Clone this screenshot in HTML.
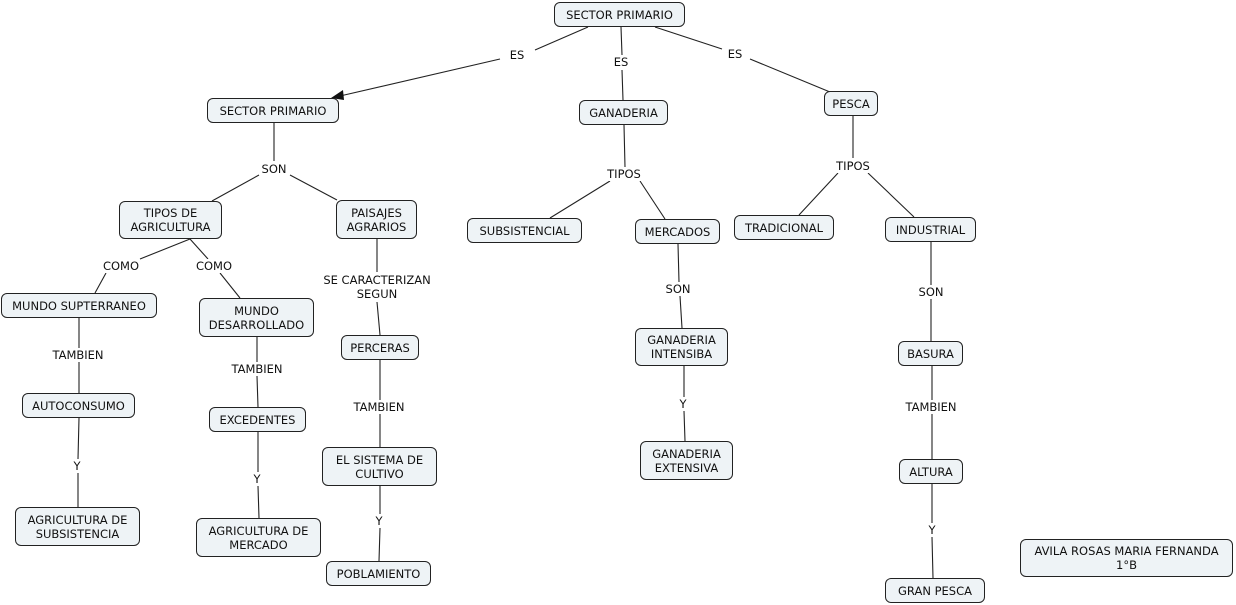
<!DOCTYPE html>
<html><head><meta charset="utf-8"><style>
body{margin:0;width:1236px;height:605px;background:#fff;position:relative;overflow:hidden;font-family:"DejaVu Sans","Liberation Sans",sans-serif;font-size:11.5px;color:#111}
.n{position:absolute;box-sizing:border-box;border:1px solid #222;border-radius:6px;background:#eef3f6;display:flex;align-items:center;justify-content:center;text-align:center;line-height:14px}
.l{position:absolute;transform:translate(-50%,-50%);background:#fff;padding:0 1px;line-height:14px;text-align:center;white-space:nowrap}
svg{position:absolute;left:0;top:0}
</style></head><body>
<svg width="1236" height="605" stroke="#222" stroke-width="1.1" fill="none">
<path d="M588 27L535 50M500 59L340 96"/>
<polygon points="331,98 343,90 344,100" fill="#111" stroke="none"/>
<path d="M621 27L622 55M622 70L623 100"/>
<path d="M655 27L722 49M750 59L830 92"/>
<path d="M274 123L274 161M259 175L212 201M290 175L337 200"/>
<path d="M624 125L625 167M610 181L550 218M640 181L665 219"/>
<path d="M853 116L853 158M838 173L799 215M868 173L914 217"/>
<path d="M190 239L140 259M106 273L95 293M190 239L208 259M220 273L240 298"/>
<path d="M377 239L377 272M377 302L380 335"/>
<path d="M678 244L679 282M680 296L682 328"/>
<path d="M931 242L931 285M931 299L931 341"/>
<path d="M79 318L79 348M79 362L79 393"/>
<path d="M257 337L257 362M257 376L258 407"/>
<path d="M380 360L380 400M380 414L380 447"/>
<path d="M932 366L932 400M932 414L932 459"/>
<path d="M79 418L78 459M78 473L78 507"/>
<path d="M258 432L258 472M258 486L259 518"/>
<path d="M380 486L380 514M380 528L379 561"/>
<path d="M684 366L684 397M684 411L685 441"/>
<path d="M932 484L932 523M932 537L933 578"/>
</svg>
<div class="n" style="left:554px;top:2px;width:131px;height:25px">SECTOR PRIMARIO</div>
<div class="n" style="left:207px;top:98px;width:132px;height:25px">SECTOR PRIMARIO</div>
<div class="n" style="left:579px;top:100px;width:89px;height:25px">GANADERIA</div>
<div class="n" style="left:824px;top:91px;width:54px;height:25px">PESCA</div>
<div class="n" style="left:119px;top:201px;width:103px;height:38px">TIPOS DE<br>AGRICULTURA</div>
<div class="n" style="left:336px;top:200px;width:81px;height:39px">PAISAJES<br>AGRARIOS</div>
<div class="n" style="left:467px;top:218px;width:115px;height:25px">SUBSISTENCIAL</div>
<div class="n" style="left:635px;top:219px;width:85px;height:25px">MERCADOS</div>
<div class="n" style="left:734px;top:215px;width:100px;height:25px">TRADICIONAL</div>
<div class="n" style="left:885px;top:217px;width:91px;height:25px">INDUSTRIAL</div>
<div class="n" style="left:1px;top:293px;width:156px;height:25px">MUNDO SUPTERRANEO</div>
<div class="n" style="left:199px;top:298px;width:115px;height:39px">MUNDO<br>DESARROLLADO</div>
<div class="n" style="left:341px;top:335px;width:78px;height:25px">PERCERAS</div>
<div class="n" style="left:635px;top:328px;width:93px;height:38px">GANADERIA<br>INTENSIBA</div>
<div class="n" style="left:898px;top:341px;width:65px;height:25px">BASURA</div>
<div class="n" style="left:22px;top:393px;width:113px;height:25px">AUTOCONSUMO</div>
<div class="n" style="left:209px;top:407px;width:97px;height:25px">EXCEDENTES</div>
<div class="n" style="left:322px;top:447px;width:115px;height:39px">EL SISTEMA DE<br>CULTIVO</div>
<div class="n" style="left:640px;top:441px;width:93px;height:39px">GANADERIA<br>EXTENSIVA</div>
<div class="n" style="left:899px;top:459px;width:64px;height:25px">ALTURA</div>
<div class="n" style="left:15px;top:507px;width:125px;height:39px">AGRICULTURA DE<br>SUBSISTENCIA</div>
<div class="n" style="left:196px;top:518px;width:125px;height:39px">AGRICULTURA DE<br>MERCADO</div>
<div class="n" style="left:326px;top:561px;width:105px;height:25px">POBLAMIENTO</div>
<div class="n" style="left:885px;top:578px;width:100px;height:25px">GRAN PESCA</div>
<div class="n" style="left:1020px;top:539px;width:213px;height:38px">AVILA ROSAS MARIA FERNANDA<br>1°B</div>
<div class="l" style="left:517px;top:55px">ES</div>
<div class="l" style="left:621px;top:62px">ES</div>
<div class="l" style="left:735px;top:54px">ES</div>
<div class="l" style="left:274px;top:169px">SON</div>
<div class="l" style="left:624px;top:174px">TIPOS</div>
<div class="l" style="left:853px;top:166px">TIPOS</div>
<div class="l" style="left:121px;top:266px">COMO</div>
<div class="l" style="left:214px;top:266px">COMO</div>
<div class="l" style="left:377px;top:287px">SE CARACTERIZAN<br>SEGUN</div>
<div class="l" style="left:678px;top:289px">SON</div>
<div class="l" style="left:931px;top:292px">SON</div>
<div class="l" style="left:78px;top:355px">TAMBIEN</div>
<div class="l" style="left:257px;top:369px">TAMBIEN</div>
<div class="l" style="left:379px;top:407px">TAMBIEN</div>
<div class="l" style="left:931px;top:407px">TAMBIEN</div>
<div class="l" style="left:77px;top:466px">Y</div>
<div class="l" style="left:257px;top:479px">Y</div>
<div class="l" style="left:379px;top:521px">Y</div>
<div class="l" style="left:683px;top:404px">Y</div>
<div class="l" style="left:932px;top:530px">Y</div>
</body></html>
